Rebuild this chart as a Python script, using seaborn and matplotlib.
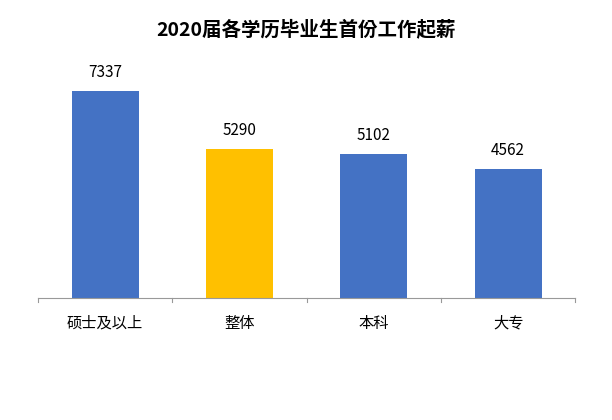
import matplotlib.pyplot as plt
import seaborn as sns
import pandas as pd

plt.rcParams["font.family"] = ["Noto Sans CJK SC", "Noto Sans CJK JP", "Noto Sans CJK TC", "DejaVu Sans"]

categories = ["硕士及以上", "整体", "本科", "大专"]
salaries = [7337, 5290, 5102, 4562]
colors = ["#4472C4", "#FFC000", "#4472C4", "#4472C4"]

frame = pd.DataFrame({"category": categories, "salary": salaries})

fig = plt.figure(figsize = (6.12, 4.2), dpi = 100)
ax = fig.add_axes([0.062, 0.29, 0.878, 0.539])
sns.barplot(data = frame, x = "category", y = "salary", hue = "category",
            palette = colors, legend = False, width = 0.5, saturation = 1, ax = ax)
ax.set_ylim(0, 8000)
ax.set_xlim(-0.5, 3.5)
for i, v in enumerate(salaries):
    ax.text(i, v + 350, str(v), ha = "center", va = "bottom", fontsize = 11)
ax.set_yticks([])
ax.set_xlabel("")
ax.set_ylabel("")
for side in ["top", "right", "left"]:
    ax.spines[side].set_visible(False)
ax.spines["bottom"].set_color("#999999")
ax.set_xticks([0, 1, 2, 3])
ax.set_xticklabels(categories, fontsize = 11)
ax.tick_params(axis = "x", length = 0, pad = 12)
for b in [-0.5, 0.5, 1.5, 2.5, 3.5]:
    ax.plot([b, b], [0, -120], color = "#999999", lw = 0.8, clip_on = False)
fig.text(0.5, 0.915, "2020届各学历毕业生首份工作起薪", ha = "center",
         fontsize = 14, fontweight = "bold")
fig.savefig("out.png", dpi = 100)
